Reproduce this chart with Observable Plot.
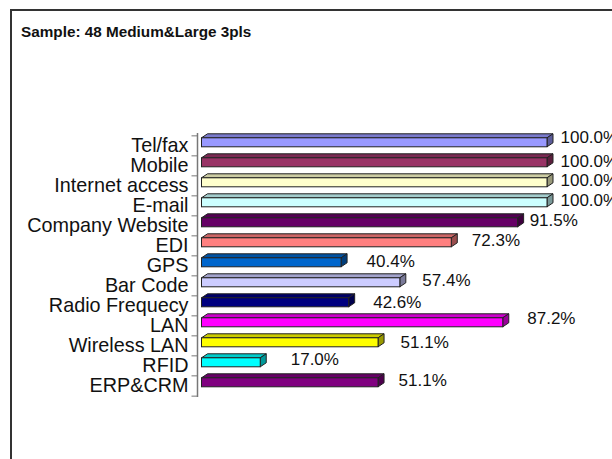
<!DOCTYPE html>
<html>
<head>
<meta charset="utf-8">
<script src="https://cdn.jsdelivr.net/npm/d3@7"></script>
<script src="https://cdn.jsdelivr.net/npm/@observablehq/plot@0.6"></script>
<style>
  html, body { margin: 0; padding: 0; background: #fff; overflow: hidden; }
  #wrap { position: relative; width: 612px; height: 459px; overflow: hidden; font-family: "Liberation Sans", Arial, sans-serif; }
  #border { position: absolute; left: 10px; top: 9px; width: 700px; height: 600px; border: 2px solid #333; }
  #title { position: absolute; left: 21px; top: 24px; font-size: 15.3px; line-height: 16px; font-weight: bold; color: #111; }
  #chart { position: absolute; left: 0; top: 0; }
  svg { overflow: visible; }
</style>
</head>
<body>
<div id="wrap">
  <div id="border"></div>
  <div id="title">Sample: 48 Medium&amp;Large 3pls</div>
  <div id="chart"></div>
</div>
<script>
const categories = ["Tel/fax","Mobile","Internet access","E-mail","Company Website","EDI","GPS","Bar Code","Radio Frequecy","LAN","Wireless LAN","RFID","ERP&CRM"];
const values = [100,100,100,100,91.5,72.3,40.4,57.4,42.6,87.2,51.1,17.0,51.1];
const colors = ["#9999FF","#993366","#FFFFCC","#CCFFFF","#660066","#FF8080","#0066CC","#CCCCFF","#000080","#FF00FF","#FFFF00","#00FFFF","#800080"];
// Hand placement of each value label, as in the reference (pixels from bar end / band centre)
const labelDx = [13,13,13,13,11.5,20,25,22,24,24,22,30,20];
const labelDy = [-8,-4.5,-5,-5,-5.5,-5.5,-4.5,-5.2,-3,-7.2,-3,-6.5,-5.5];

const rows = categories.map((name, i) => ({name, value: values[i], color: colors[i], dx: labelDx[i], dy: labelDy[i]}));

const depthX = 6, depthY = 4, barShift = -3.2, step = 264 / categories.length;
const shade = (c, k) => { const r = d3.rgb(c); return d3.rgb(r.r * k, r.g * k, r.b * k).formatHex(); };

function box3d(index, scales, vals, dims, ctx, next) {
  const g = next(index, scales, vals, dims, ctx);
  const svgNS = "http://www.w3.org/2000/svg";
  const rects = Array.from(g.querySelectorAll("rect"));
  rects.forEach((r) => {
    const x = +r.getAttribute("x"), y = +r.getAttribute("y");
    const w = +r.getAttribute("width"), h = +r.getAttribute("height");
    const fill = r.getAttribute("fill");
    const poly = (pts, k) => {
      const p = document.createElementNS(svgNS, "polygon");
      p.setAttribute("points", pts.map(q => q.join(",")).join(" "));
      p.setAttribute("fill", shade(fill, k));
      p.setAttribute("stroke", "#222");
      p.setAttribute("stroke-width", "1");
      p.setAttribute("stroke-linejoin", "round");
      r.parentNode.insertBefore(p, r);
    };
    poly([[x, y], [x + depthX, y - depthY], [x + w + depthX, y - depthY], [x + w, y]], 0.8);
    poly([[x + w, y], [x + w + depthX, y - depthY], [x + w + depthX, y + h - depthY], [x + w, y + h]], 0.6);
  });
  return g;
}

const plot = Plot.plot({
  width: 612,
  height: 459,
  marginLeft: 201.5,
  marginRight: 65,
  marginTop: 133,
  marginBottom: 62,
  style: {background: "transparent", fontFamily: '"Liberation Sans", Arial, sans-serif', overflow: "visible"},
  x: {domain: [0, 100], axis: null},
  y: {domain: categories, paddingInner: 0.557, paddingOuter: 0.2785, label: null},
  color: {type: "identity"},
  marks: [
    Plot.ruleX([0], {dx: -4.5, stroke: "#777", strokeWidth: 1.5}),
    Plot.axisY({tickSize: 0, tickPadding: 13.5, fontSize: 19.8, dy: -0.7, label: null, fill: "#111", anchor: "left"}),
    Plot.axisY({tickSize: 5.5, tickPadding: 0, text: null, label: null, dy: -step / 2, dx: -4.5, stroke: "#777", anchor: "left"}),
    Plot.axisY({ticks: categories.slice(-1), tickSize: 5.5, tickPadding: 0, text: null, label: null, dy: step / 2, dx: -4.5, stroke: "#777", anchor: "left"}),
    Plot.barX(rows, {x: "value", y: "name", fill: "color", stroke: "#222", strokeWidth: 1, dy: barShift, render: box3d}),
    Plot.text(rows, {
      x: "value", y: "name",
      text: d => d.value.toFixed(1) + "%",
      textAnchor: "start",
      fontSize: 17,
      fill: "#111",
      render(index, scales, vals, dims, ctx, next) {
        const g = next(index, scales, vals, dims, ctx);
        g.querySelectorAll("text").forEach((t, i) => {
          const row = rows[index[i]];
          t.setAttribute("transform", (t.getAttribute("transform") || "") + ` translate(${row.dx},${row.dy})`);
        });
        return g;
      }
    })
  ]
});
document.getElementById("chart").appendChild(plot);
</script>
</body>
</html>
